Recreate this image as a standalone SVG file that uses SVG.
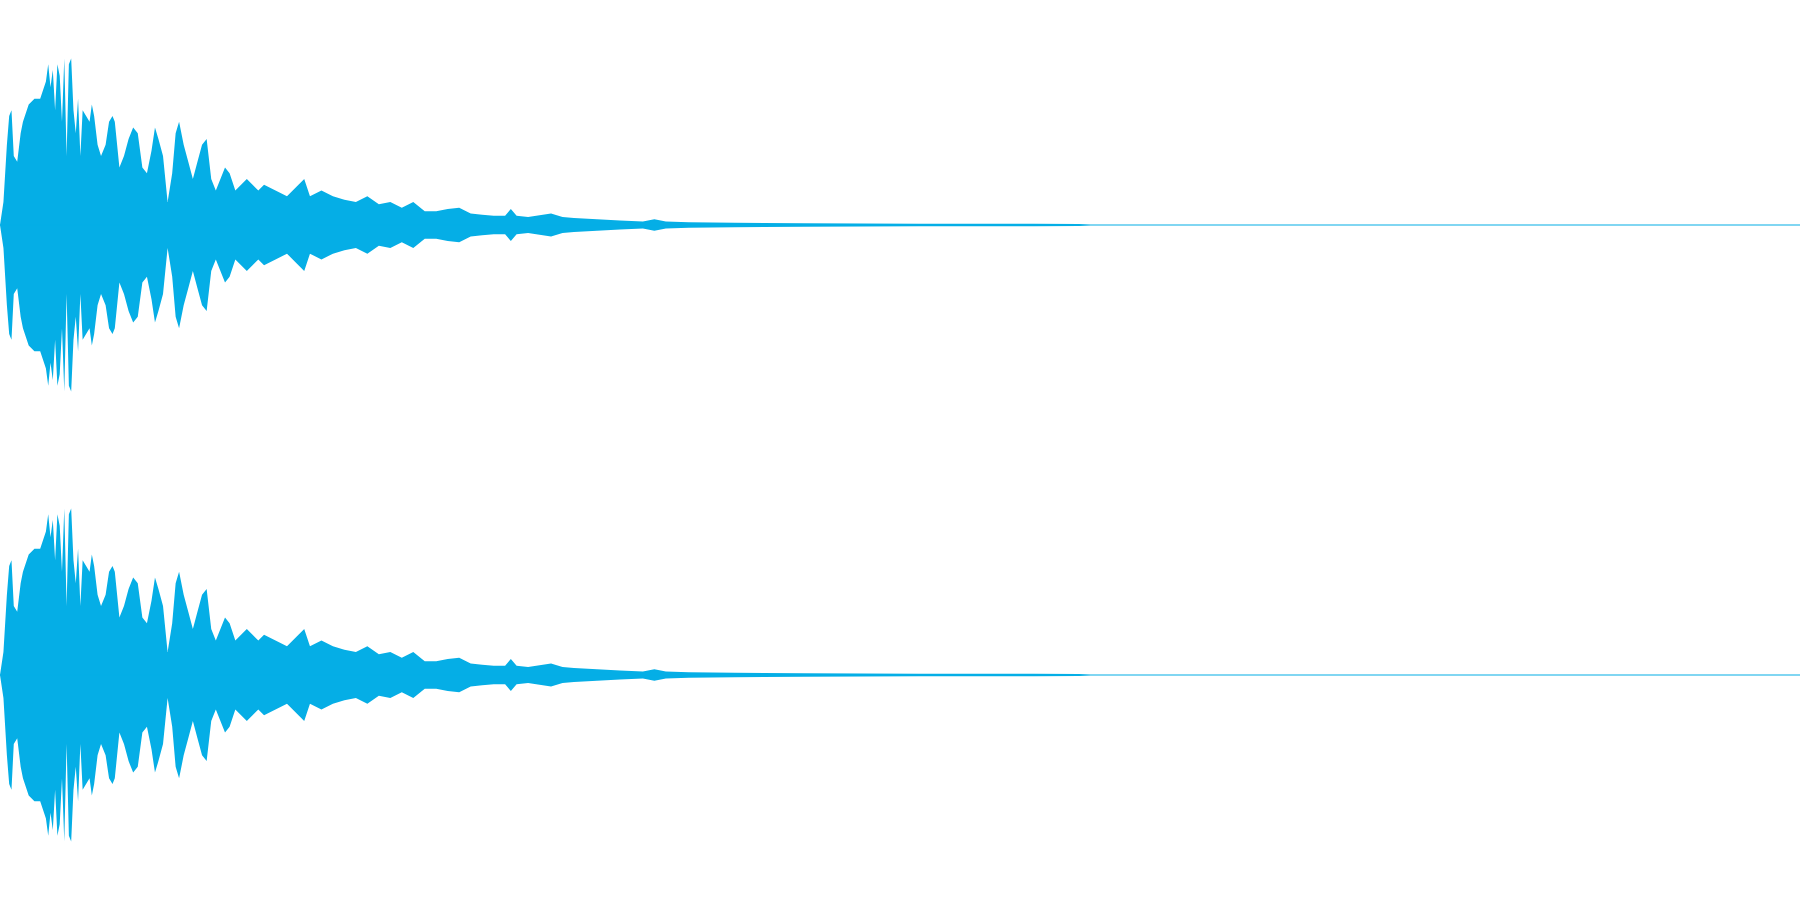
<svg xmlns="http://www.w3.org/2000/svg" width="1800" height="900" viewBox="0 0 1800 900">
<style>.w{fill:#05AEE6}.b{stroke:#05AEE6;stroke-width:1.2}</style>
<defs>
<path id="h" d="M0,0 L3,-20 L6,-70 L8,-95 L10,-100 L12,-60 L15,-55 L18,-80 L20,-90 L25,-105 L30,-110 L35,-110 L40,-125 L42,-140 L44,-120 L46,-135 L48,-100 L50,-140 L52,-130 L54,-90 L56,-145 L58,-60 L60,-140 L62,-145 L64,-100 L66,-80 L68,-110 L70,-60 L72,-100 L75,-95 L78,-90 L80,-105 L82,-95 L85,-70 L88,-60 L92,-70 L95,-90 L98,-95 L100,-90 L104,-50 L108,-60 L112,-75 L116,-85 L120,-80 L124,-50 L128,-45 L132,-65 L135,-85 L138,-75 L142,-60 L146,-20 L150,-45 L153,-80 L156,-90 L160,-70 L164,-55 L168,-40 L172,-55 L176,-70 L180,-75 L184,-40 L188,-30 L192,-40 L196,-50 L200,-45 L205,-30 L210,-35 L215,-40 L220,-35 L225,-30 L230,-35 L240,-30 L250,-25 L260,-35 L265,-40 L270,-25 L280,-30 L290,-25 L300,-22 L310,-20 L320,-25 L330,-18 L340,-20 L350,-15 L360,-20 L370,-12 L380,-12 L390,-14 L400,-15 L410,-10 L420,-9 L430,-8 L440,-8 L445,-14 L450,-8 L460,-7 L480,-10 L490,-7 L500,-6 L520,-5 L540,-4 L560,-3 L570,-5 L580,-3 L600,-2.5 L640,-2 L700,-1.5 L800,-1 L900,-1 L940,-0.8 L950,0 Z"/>
<g id="wave">
<use href="#h" class="w"/>
<use href="#h" class="w" transform="scale(1,-1)"/>
</g>
</defs>
<g id="top">
<use href="#wave" transform="translate(0,225) scale(1.148)"/>
<line class="b" x1="0" y1="225" x2="1800" y2="225"/>
</g>
<g id="bottom">
<use href="#wave" transform="translate(0,675) scale(1.148)"/>
<line class="b" x1="0" y1="675" x2="1800" y2="675"/>
</g>
</svg>
